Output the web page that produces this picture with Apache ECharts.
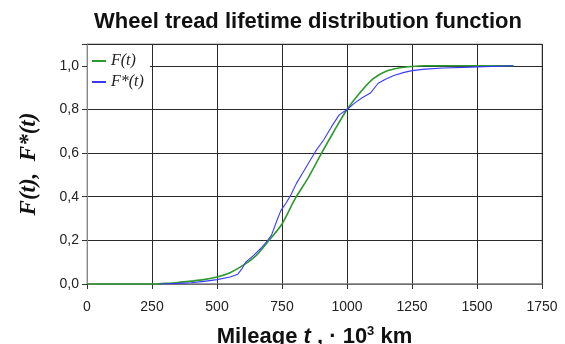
<!DOCTYPE html>
<html>
<head>
<meta charset="utf-8">
<script src="https://cdn.jsdelivr.net/npm/echarts@6/dist/echarts.min.js"></script>
<style>html,body{margin:0;padding:0;background:#fff;}#c{width:565px;height:344px;}</style>
</head>
<body>
<div id="c"></div>
<script>
// F(t): theoretical distribution function [mileage, F]
var fT = [[0,0],[250,0],[300,0.003],[350,0.007],[400,0.013],[450,0.02],[500,0.032],[550,0.052],[600,0.085],[650,0.13],[700,0.2],[750,0.275],[800,0.39],[850,0.485],[900,0.595],[950,0.7],[1000,0.8],[1050,0.877],[1100,0.94],[1150,0.975],[1200,0.99],[1250,0.997],[1300,1.0],[1640,1.0]];
// F*(t): empirical distribution function [mileage, F*]
var fStar = [[280,0],[350,0.003],[400,0.006],[450,0.012],[500,0.02],[550,0.032],[580,0.045],[595,0.068],[610,0.1],[640,0.13],[670,0.165],[695,0.2],[710,0.225],[730,0.29],[745,0.335],[765,0.37],[785,0.41],[805,0.46],[830,0.51],[855,0.56],[880,0.61],[910,0.66],[940,0.72],[970,0.775],[1000,0.8],[1030,0.83],[1060,0.855],[1090,0.875],[1120,0.92],[1150,0.94],[1180,0.956],[1220,0.97],[1250,0.978],[1300,0.985],[1370,0.99],[1450,0.993],[1500,0.995],[1640,1.0]];
var xTicks = [0,250,500,750,1000,1250,1500,1750];
var yTicks = ['0,0','0,2','0,4','0,6','0,8','1,0'];

var chart = echarts.init(document.getElementById('c'), null, {renderer:'canvas'});
chart.setOption({
  animation:false,
  backgroundColor:'#fff',
  title:{text:'Wheel tread lifetime distribution function',left:303,top:6,textAlign:'center',
    textStyle:{fontFamily:'Liberation Sans, Arial',fontWeight:'bold',fontSize:22,color:'#111'}},
  grid:{left:87,right:23,top:44,bottom:60,show:true,borderColor:'#999',borderWidth:1,backgroundColor:'transparent',
    containLabel:false,outerBoundsMode:'none'},
  legend:{left:88,top:49,orient:'vertical',itemGap:5,itemWidth:14,itemHeight:2,icon:'rect',
    backgroundColor:'#fff',padding:[4,6,6,4],
    textStyle:{fontFamily:'Liberation Serif, Times New Roman',fontStyle:'italic',fontSize:16,color:'#222'},
    data:['F(t)','F*(t)']},
  xAxis:{type:'value',min:xTicks[0],max:xTicks[xTicks.length-1],interval:250,
    axisLine:{show:true,lineStyle:{color:'#888',width:1.5}},
    axisTick:{show:true,length:5,lineStyle:{color:'#333'}},
    axisLabel:{fontFamily:'Liberation Sans, Arial',fontSize:14,color:'#222',margin:16,
      formatter:function(v){return String(v);}},
    splitLine:{show:true,lineStyle:{color:'#2a2a2a',width:1}},
    name:'{a|Mileage }{i|t}{a| , · 10}{s|3}{a| km}',nameLocation:'middle',nameGap:41,
    nameTextStyle:{rich:{
      a:{fontFamily:'Liberation Sans, Arial',fontWeight:'bold',fontSize:22,color:'#111'},
      i:{fontFamily:'Liberation Sans, Arial',fontWeight:'bold',fontStyle:'italic',fontSize:22,color:'#111'},
      s:{fontFamily:'Liberation Sans, Arial',fontWeight:'bold',fontSize:13,color:'#111',verticalAlign:'top',padding:[0,0,10,0]}
    }}},
  yAxis:{type:'value',min:0,max:1.1,interval:0.2,
    axisLine:{show:true,lineStyle:{color:'#888',width:1}},
    axisTick:{show:true,length:5,lineStyle:{color:'#333'}},
    axisLabel:{fontFamily:'Liberation Sans, Arial',fontSize:14,color:'#222',margin:8,
      formatter:function(v){var i=Math.round(v/0.2); return (Math.abs(v-i*0.2)<1e-6 && i<yTicks.length)? yTicks[i] : '';}},
    splitLine:{show:true,lineStyle:{color:'#2a2a2a',width:1}},
    name:'F(t),  F*(t)',nameLocation:'middle',nameGap:46,nameRotate:90,
    nameTextStyle:{fontFamily:'Liberation Serif, Times New Roman',fontWeight:'bold',fontStyle:'italic',fontSize:23,color:'#111'}},
  series:[
    {name:'F(t)',type:'line',data:fT,showSymbol:false,smooth:0.3,lineStyle:{color:'#2e9a2e',width:1.6},itemStyle:{color:'#2e9a2e'},z:2},
    {name:'F*(t)',type:'line',data:fStar,showSymbol:false,smooth:false,lineStyle:{color:'#3a3aff',width:1.1},itemStyle:{color:'#3a3aff'},z:3}
  ]
});
</script>
</body>
</html>
